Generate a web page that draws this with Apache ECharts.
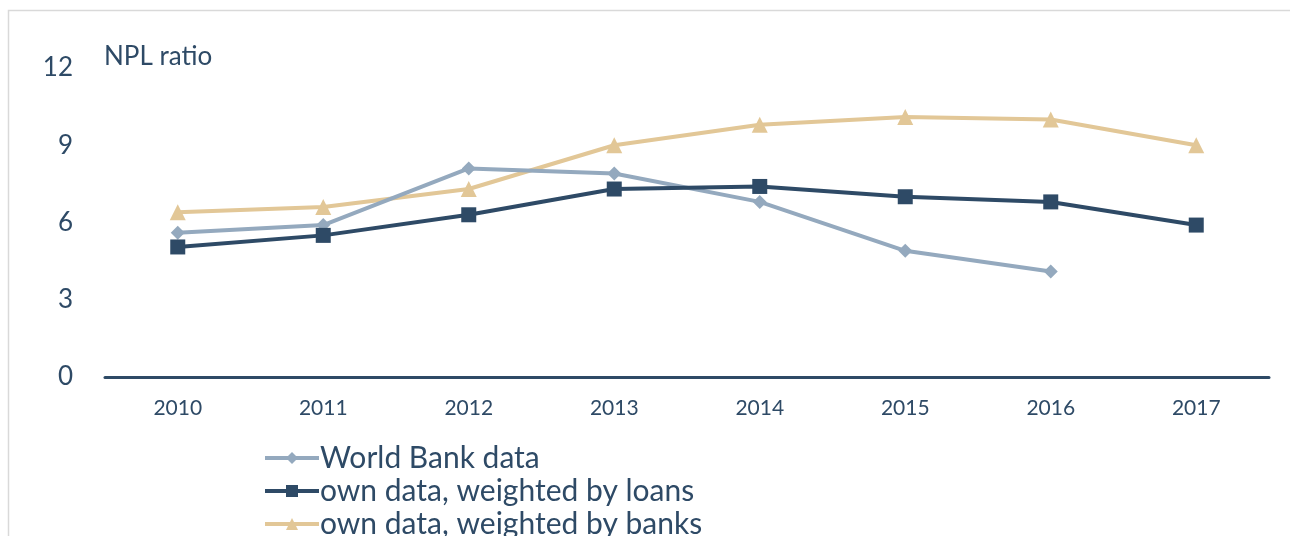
<!DOCTYPE html>
<html><head><meta charset="utf-8">
<script src="https://cdn.jsdelivr.net/npm/echarts@6/dist/echarts.min.js"></script>
<style>html,body{margin:0;padding:0;background:#fff}#c{width:1290px;height:536px}</style>
</head><body><div id="c"></div>
<script>
const years = ['2010','2011','2012','2013','2014','2015','2016','2017'];
const worldBank = [5.6, 5.9, 8.1, 7.9, 6.8, 4.9, 4.1, null];
const byLoans = [5.05, 5.5, 6.3, 7.3, 7.4, 7.0, 6.8, 5.9];
const byBanks = [6.4, 6.6, 7.3, 9.0, 9.8, 10.1, 10.0, 9.0];
const yTicks = [0, 3, 6, 9, 12];

const txt = '#2E4A66';
const font = 'Lato, "Open Sans", sans-serif';
const chart = echarts.init(document.getElementById('c'));
chart.setOption({
  animation: false,
  backgroundColor: '#fff',
  graphic: [{type:'rect', left:6, top:8, shape:{width:1400, height:700}, style:{fill:'none', stroke:'#d9d9d9', lineWidth:1.5}, silent:true},
            {type:'text', left:104, top:44, style:{text:'NPL ratio', fill:txt, font:'26px ' + font}}],
  grid: {left:105, right:21, top:68, bottom:159, containLabel:false},
  xAxis: {type:'category', data: years, boundaryGap:true,
    axisLine:{lineStyle:{color:txt, width:3}}, axisTick:{show:false},
    axisLabel:{color:txt, fontSize:21, fontFamily:font, margin:21}},
  yAxis: {type:'value', min:yTicks[0], max:yTicks[yTicks.length-1], interval:3,
    axisLine:{show:false}, axisTick:{show:false}, splitLine:{show:false},
    axisLabel:{color:txt, fontSize:26, fontFamily:font, margin:32}},
  legend: {orient:'vertical', left:258, top:438, height:200, itemWidth:54, itemHeight:15, itemGap:3,
    lineStyle:{width:4},
    textStyle:{color:txt, fontSize:30, fontFamily:font, padding:[0,0,0,-4]},
    data:['World Bank data','own data, weighted by loans','own data, weighted by banks']},
  series: [
    {name:'World Bank data', type:'line', data:worldBank, symbol:'diamond', symbolSize:14,
     lineStyle:{color:'#94A9BE', width:4}, itemStyle:{color:'#94A9BE'}, z:3},
    {name:'own data, weighted by loans', type:'line', data:byLoans, symbol:'rect', symbolSize:15,
     lineStyle:{color:'#2E4A66', width:4}, itemStyle:{color:'#2E4A66'}, z:4},
    {name:'own data, weighted by banks', type:'line', data:byBanks, symbol:'triangle', symbolSize:16,
     lineStyle:{color:'#E2C797', width:4}, itemStyle:{color:'#E2C797'}, z:2}
  ]
});
</script></body></html>
